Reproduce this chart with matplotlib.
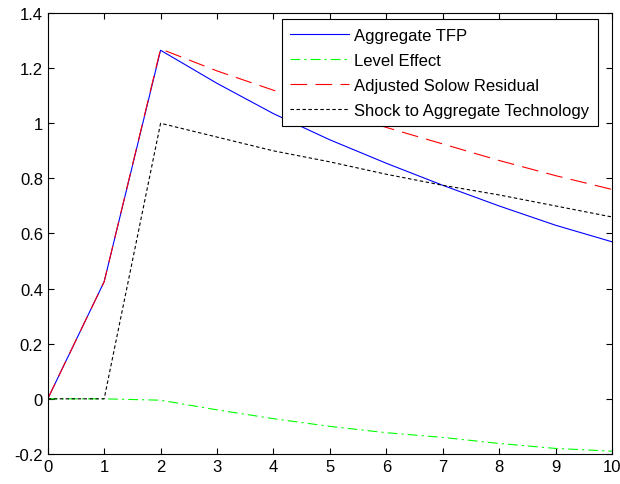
import matplotlib
matplotlib.use('Agg')
import matplotlib.pyplot as plt

plt.rcParams['font.family'] = ['Liberation Sans', 'DejaVu Sans']
plt.rcParams['lines.scale_dashes'] = False

periodos = [0, 1, 2, 3, 4, 5, 6, 7, 8, 9, 10]

tfp_agregado = [0, 0.425, 1.265, 1.145, 1.035, 0.94, 0.855, 0.775, 0.70, 0.63, 0.57]
efecto_nivel = [0, 0, -0.005, -0.04, -0.072, -0.10, -0.123, -0.14, -0.162, -0.18, -0.19]
residuo_solow = [0, 0.425, 1.27, 1.19, 1.12, 1.05, 0.985, 0.925, 0.865, 0.81, 0.76]
shock_tecnologia = [0, 0, 1.0, 0.95, 0.90, 0.86, 0.815, 0.775, 0.74, 0.70, 0.66]

etiquetas = ['Aggregate TFP', 'Level Effect', 'Adjusted Solow Residual',
             'Shock to Aggregate Technology']

fig = plt.figure(figsize=(6.2, 4.85), dpi=100)
ax = fig.add_axes([0.077, 0.062, 0.91, 0.909])

ax.plot(periodos, tfp_agregado, color='blue', linewidth=0.8, label=etiquetas[0])
ax.plot(periodos, efecto_nivel, color='#00ff00', linewidth=0.8,
        dashes=(7, 3, 1.5, 3), label=etiquetas[1])
ax.plot(periodos, residuo_solow, color='red', linewidth=0.8,
        dashes=(12, 6), label=etiquetas[2])
ax.plot(periodos, shock_tecnologia, color='black', linewidth=0.8,
        dashes=(2.5, 1.8), label=etiquetas[3])

ax.set_xlim(0, 10)
ax.set_ylim(-0.2, 1.4)
ax.set_xticks(range(0, 11))
ax.set_yticks([-0.2, 0, 0.2, 0.4, 0.6, 0.8, 1, 1.2, 1.4])
ax.set_yticklabels(['-0.2', '0', '0.2', '0.4', '0.6', '0.8', '1', '1.2', '1.4'])
ax.tick_params(direction='in', top=True, right=True, length=4, width=0.8,
               labelsize=12)
for s in ax.spines.values():
    s.set_linewidth(0.8)

leg = ax.legend(loc='upper right', bbox_to_anchor=(0.975, 0.986), borderaxespad=0,
                fontsize=12, fancybox=False, framealpha=1, handlelength=3.5,
                labelspacing=0.6, borderpad=0.5, handletextpad=0.35)
leg.get_frame().set_edgecolor('black')
leg.get_frame().set_linewidth(0.8)

plt.savefig('out.png', dpi=100)
